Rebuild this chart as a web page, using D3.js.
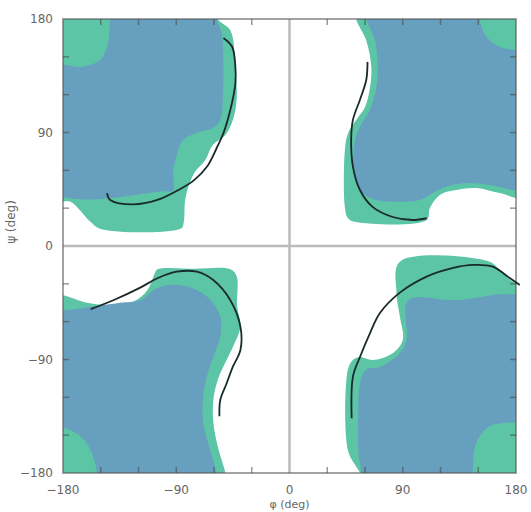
<!DOCTYPE html>
<meta charset="utf-8">
<html>
<head>
<script src="https://d3js.org/d3.v7.min.js"></script>
<style>
body { margin: 0; background: #fff; }
.tickLabel { font-family: "DejaVu Sans", sans-serif; font-size: 12px; fill: #666; }
</style>
</head>
<body>
<script>
// axis ticks (deg)
var tickValues = [-180, -90, 0, 90, 180];
var minorTicks = [-150, -120, -90, -60, -30, 30, 60, 90, 120, 150];

// allowed regions, [phi, psi] outlines (points outside +-180 are clipped away)
var greenTL = [[-190,190],[-57,190],[-57,180],[-47,171],[-43,140],[-42,116],[-45,100],[-51,88],[-61,80],[-67,68],[-75,59],[-80,48],[-83,36],[-84,19],[-86,14],[-150,13.5],[-158,19],[-168,30],[-174,35],[-190,37]];
var blueTL  = [[-190,142],[-165,142],[-151,147],[-145,158],[-142.5,180],[-142,190],[-58,190],[-58,180],[-54,169],[-53,116],[-55,100],[-61,93.5],[-73,90],[-84.5,84],[-89,74],[-92.5,58],[-92.5,44],[-100,43.5],[-190,44]];
var greenTR = [[53,190],[53,180],[61,163],[65,142],[64,126],[60,110],[53,100],[46.5,89.5],[44,76],[44,31],[46.5,22],[53,19],[109,20.6],[111.5,30],[119.5,40.5],[130,44],[148.6,46],[167,42],[190,39],[190,190]];
var blueTR  = [[61,190],[61,180],[68,163],[70,142],[69,126],[64,108],[56,94.5],[52,84],[50.5,68],[52,52],[58,42],[69,36.5],[88,35],[103.5,36.5],[114,42],[124.6,47],[140.6,50],[161.5,48],[179,44],[190,44],[190,155],[179,155.5],[167,158],[156.5,166],[151,180],[151,190]];
var greenBL = [[-190,-39],[-180,-39],[-161,-45],[-140,-47],[-124,-44],[-113,-35],[-107,-21.6],[-105,-18.5],[-75,-18],[-47,-18.5],[-42,-24],[-41.6,-48],[-39,-64],[-45,-80],[-50,-90.4],[-57,-106],[-60.5,-122],[-60.5,-140],[-57,-159],[-51,-180],[-50,-190],[-190,-190]];
var blueBL  = [[-190,-51],[-180,-51],[-156,-48],[-134.5,-45],[-118.6,-43],[-108,-35],[-97.5,-31],[-81.6,-32],[-65.7,-40],[-55,-56],[-55,-72],[-60.6,-88],[-65.7,-103.6],[-68.6,-119.5],[-68.6,-140],[-63,-162],[-58,-180],[-57,-190],[-153,-190],[-153,-180],[-158,-162],[-166,-151],[-180,-144],[-190,-144]];
var greenBR = [[87.7,-12.4],[159,-12.4],[167,-19],[179,-29],[190,-29],[190,-190],[56,-190],[56,-180],[53,-175],[46.4,-162],[46.4,-98],[50.4,-90.4],[56,-88],[66,-90.4],[82,-85],[90,-74.5],[87.7,-56],[85,-37]];
var blueBR  = [[94.3,-43],[130,-43],[190,-43],[190,-140],[179,-140],[159,-143],[148.6,-156],[145.6,-180],[145.6,-190],[57,-190],[57,-180],[54.6,-162],[54.6,-135],[56,-109],[61,-98],[72,-95.7],[87.7,-85],[93,-74.5]];

// trajectory curves
var curveTL = [[-145,42],[-142.5,36.5],[-124,33],[-105,36.5],[-89,44],[-76,52],[-65.5,63],[-57.5,78.5],[-52.5,89.5],[-47,108],[-43,129],[-43,142],[-45.6,158],[-52.5,165]];
var curveTR = [[62,146],[61,131.6],[56,116],[50.4,100],[49,84],[50.4,63],[56,44.4],[66,31],[82,23],[98,20.6],[109,22]];
var curveBL = [[-158,-50],[-140,-43],[-118.6,-33],[-105,-25.6],[-89.5,-20.4],[-73.6,-20.4],[-60.6,-27],[-47,-43],[-39,-64],[-39,-82.5],[-45,-95.7],[-50,-109],[-55,-122],[-55.7,-135]];
var curveBR = [[49.4,-136.6],[50.4,-103.6],[56,-88],[64,-69],[72,-53],[87.7,-37],[109,-24.3],[130,-17.4],[146,-15],[161.5,-16.4],[175,-25.4],[183,-31]];

var greenColor = "#5cc5a5", blueColor = "#67a0bf";

var svg = d3.select("body").append("svg")
  .attr("width", 531)
  .attr("height", 512);

var x = d3.scaleLinear().domain([-180, 180]).range([63, 516]);
var y = d3.scaleLinear().domain([-180, 180]).range([473, 19]);

svg.append("clipPath").attr("id", "plotClip")
  .append("rect")
  .attr("x", x(-180)).attr("y", y(180))
  .attr("width", x(180) - x(-180)).attr("height", y(-180) - y(180));

var area = d3.line()
  .x(function(d) { return x(d[0]); })
  .y(function(d) { return y(d[1]); })
  .curve(d3.curveCatmullRomClosed.alpha(0.5));

var path = d3.line()
  .x(function(d) { return x(d[0]); })
  .y(function(d) { return y(d[1]); })
  .curve(d3.curveCatmullRom.alpha(0.5));

var regions = svg.append("g").attr("clip-path", "url(#plotClip)");
[greenTL, greenTR, greenBL, greenBR].forEach(function(r) {
  regions.append("path").attr("d", area(r)).style("fill", greenColor);
});
[blueTL, blueTR, blueBL, blueBR].forEach(function(r) {
  regions.append("path").attr("d", area(r)).style("fill", blueColor);
});

// zero lines
svg.append("line")
  .attr("x1", x(0)).attr("x2", x(0)).attr("y1", y(180)).attr("y2", y(-180))
  .style("stroke", "#bbb").style("stroke-width", 2.5);
svg.append("line")
  .attr("x1", x(-180)).attr("x2", x(180)).attr("y1", y(0)).attr("y2", y(0))
  .style("stroke", "#bbb").style("stroke-width", 2.5);

// frame + inward ticks
svg.append("rect")
  .attr("x", x(-180)).attr("y", y(180))
  .attr("width", x(180) - x(-180)).attr("height", y(-180) - y(180))
  .style("fill", "none").style("stroke", "#555").style("stroke-opacity", 0.55)
  .style("stroke-width", 2);

var ticks = svg.append("g").style("stroke", "#444").style("stroke-opacity", 0.55).style("stroke-width", 1.5);
minorTicks.forEach(function(t) {
  ticks.append("line").attr("x1", x(t)).attr("x2", x(t)).attr("y1", y(-180)).attr("y2", y(-180) - 6);
  ticks.append("line").attr("x1", x(t)).attr("x2", x(t)).attr("y1", y(180)).attr("y2", y(180) + 6);
  ticks.append("line").attr("y1", y(t)).attr("y2", y(t)).attr("x1", x(-180)).attr("x2", x(-180) + 6);
  ticks.append("line").attr("y1", y(t)).attr("y2", y(t)).attr("x1", x(180)).attr("x2", x(180) - 6);
});

// trajectories
[curveTL, curveTR, curveBL, curveBR].forEach(function(c) {
  svg.append("path").attr("d", path(c))
    .style("fill", "none").style("stroke", "#1a2a2a").style("stroke-width", 1.8);
});

// tick labels
svg.selectAll(".yLabel").data(tickValues).enter().append("text")
  .attr("class", "tickLabel")
  .attr("x", 53).attr("y", function(d) { return y(d); })
  .attr("dy", "0.35em").attr("text-anchor", "end")
  .text(function(d) { return d < 0 ? "\u2212" + (-d) : d; });

svg.selectAll(".xLabel").data(tickValues).enter().append("text")
  .attr("class", "tickLabel")
  .attr("x", function(d) { return x(d); }).attr("y", 494)
  .attr("text-anchor", "middle")
  .text(function(d) { return d < 0 ? "\u2212" + (-d) : d; });

// axis titles
svg.append("text").attr("class", "tickLabel")
  .attr("transform", "translate(15,222) rotate(-90)")
  .attr("text-anchor", "middle")
  .text("\u03c8 (deg)");
svg.append("text").attr("class", "tickLabel")
  .attr("x", x(0)).attr("y", 508)
  .style("font-size", "11px")
  .attr("text-anchor", "middle")
  .text("\u03c6 (deg)");
</script>
</body>
</html>
